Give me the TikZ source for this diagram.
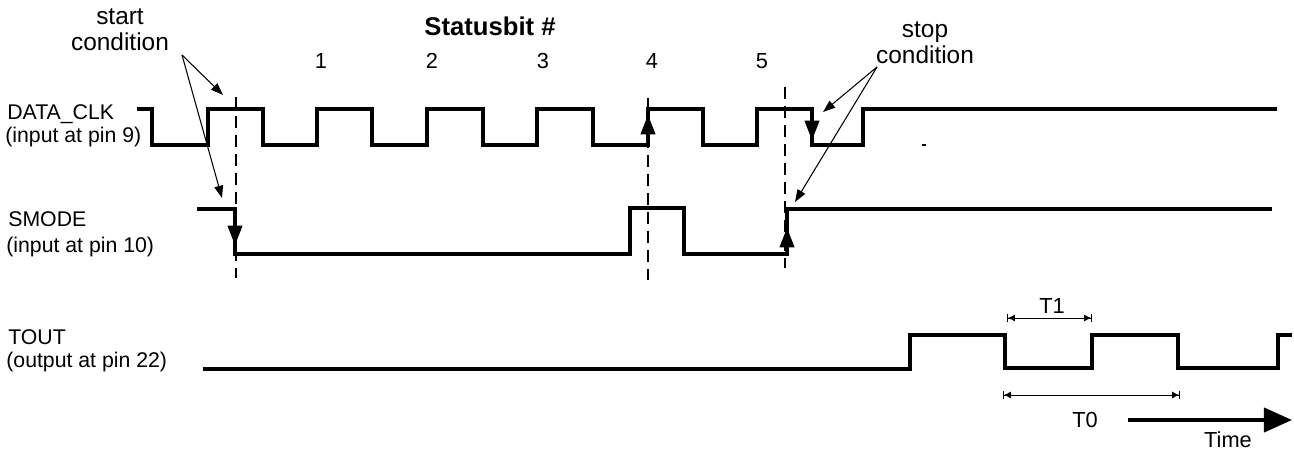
\documentclass[tikz,border=0pt]{standalone}
\usepackage{fontspec}
\setmainfont{Liberation Sans}
\usetikzlibrary{arrows.meta}
\begin{document}
\begin{tikzpicture}[x=0.02cm,y=-0.02cm,
  sig/.style={line width=2.3pt, line join=miter, line cap=butt},
  dsh/.style={line width=0.75pt, dash pattern=on 6.8pt off 4pt},
  callout/.style={line width=0.6pt, -{Triangle[length=7pt,width=5pt]}},
  edgearr/.style={line width=0.4pt, -{Triangle[length=11pt,width=8.5pt]}},
  dimline/.style={line width=0.5pt, {Bar[width=5pt]Latex[length=4pt,width=4pt]}-{Latex[length=4pt,width=4pt]Bar[width=5pt]}},
  lbl/.style={inner sep=0pt, anchor=base west, font=\fontsize{12.1}{14}\selectfont},
  cond/.style={inner sep=0pt, anchor=base, font=\fontsize{13.9}{16}\selectfont},
  num/.style={inner sep=0pt, anchor=base, font=\fontsize{12.4}{14}\selectfont},
  ttl/.style={inner sep=0pt, anchor=base, font=\fontsize{14.6}{17}\selectfont\bfseries}]
\useasboundingbox (0,0) rectangle (1294,450);

% signal labels
\node[lbl] (dclk) at (7,119) {DATA\_CLK};
\node[lbl] (dclkp) at (5,142) {(input at pin 9)};
\node[lbl] (smode) at (8,226) {SMODE};
\node[lbl] (smodep) at (6,252) {(input at pin 10)};
\node[lbl] (tout) at (8,344) {TOUT};
\node[lbl] (toutp) at (6,367) {(output at pin 22)};

% title and bit numbers
\node[ttl] (title) at (490,35) {Statusbit \#};
\node[num] (b1) at (321,68) {1};
\node[num] (b2) at (432,68) {2};
\node[num] (b3) at (543,68) {3};
\node[num] (b4) at (652,68) {4};
\node[num] (b5) at (762,68) {5};

% condition labels
\node[cond] (startA) at (120,24) {start};
\node[cond] (startB) at (120,50) {condition};
\node[cond] (stopA) at (925,37) {stop};
\node[cond] (stopB) at (925,63) {condition};

% dashed marker lines
\draw[dsh] (236,97) -- (236,278);
\draw[dsh] (648,98) -- (648,280);
\draw[dsh] (785,87) -- (785,268);

% DATA_CLK
\draw[sig] (137,109) -- (152,109) -- (152,145) -- (208,145) -- (208,109) -- (263,109)
  -- (263,145) -- (317,145) -- (317,109) -- (372,109) -- (372,145) -- (427,145)
  -- (427,109) -- (483,109) -- (483,145) -- (537,145) -- (537,109) -- (593,109)
  -- (593,145) -- (648,145) -- (648,109) -- (703,109) -- (703,145) -- (757,145)
  -- (757,109) -- (812,109) -- (812,145) -- (863,145) -- (863,109) -- (1277,109);

% SMODE
\draw[sig] (197,209) -- (235,209) -- (235,254) -- (630,254) -- (630,208) -- (684,208)
  -- (684,254) -- (787,254) -- (787,209) -- (1272,209);

% TOUT
\draw[sig] (203,369) -- (910,369) -- (910,335) -- (1005,335) -- (1005,368) -- (1092,368)
  -- (1092,335) -- (1178,335) -- (1178,368) -- (1278,368) -- (1278,335) -- (1292,335);

% edge arrows
\draw[edgearr] (648,142) -- (648,115);
\draw[edgearr] (812,112) -- (812,140);
\draw[edgearr] (235,212) -- (235,245);
\draw[edgearr] (787,250) -- (787,228);

% small stray mark
\draw[line width=0.6pt] (922,145) -- (926,145);

% callout arrows
\coordinate (startO) at (182,55);
\coordinate (startT1) at (223,95);
\coordinate (startT2) at (222,198);
\coordinate (stopO) at (877,67);
\coordinate (stopT1) at (823,112);
\coordinate (stopT2) at (795,202);
\draw[callout] (startO) -- (startT1);
\draw[callout] (startO) -- (startT2);
\draw[callout] (stopO) -- (stopT1);
\draw[callout] (stopO) -- (stopT2);

% timing dimensions
\coordinate (t1a) at (1007,318);
\coordinate (t1b) at (1092,318);
\coordinate (t0a) at (1003,395);
\coordinate (t0b) at (1180,395);
\draw[dimline] (t1a) -- (t1b);
\draw[dimline] (t0a) -- (t0b);
\node[num] (T1) at (1052,313) {T1};
\node[num] (T0) at (1085,427) {T0};

% time arrow
\coordinate (timeA) at (1128,420);
\coordinate (timeB) at (1292,420);
\draw[line width=2.3pt, -{Triangle[length=16pt,width=13.7pt]}] (timeA) -- (timeB);
\node[num] (time) at (1228,447) {Time};
\end{tikzpicture}
\end{document}
